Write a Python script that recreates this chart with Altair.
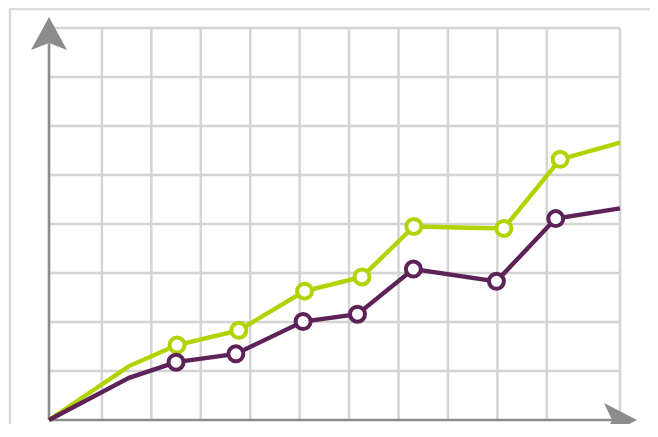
import altair as alt
import pandas as pd

# Series values (x in grid units from origin, y in grid units)
X_GREEN = [0, 1.62, 2.59, 3.84, 5.17, 6.33, 7.38, 9.20, 10.34, 11.55]
Y_GREEN = [0, 1.10, 1.53, 1.83, 2.63, 2.92, 3.95, 3.91, 5.32, 5.66]
X_PURPLE = [0, 1.62, 2.57, 3.78, 5.14, 6.24, 7.37, 9.05, 10.25, 11.55]
Y_PURPLE = [0, 0.86, 1.18, 1.35, 2.01, 2.16, 3.08, 2.83, 4.11, 4.32]
MARKER = [False, False, True, True, True, True, True, True, True, False]

SERIES = ["green", "purple"]
COLORS = ["#b3d300", "#5d2257"]

X_MAX = 11.55
Y_MAX = 8
GRID_X = [1.07, 2.07, 3.07, 4.07, 5.07, 6.07, 7.07, 8.07, 9.07, 10.07, 11.55]
GRID_Y = [1, 2, 3, 4, 5, 6, 7, 8]

rows = []
for name, xs_, ys_ in [("green", X_GREEN, Y_GREEN), ("purple", X_PURPLE, Y_PURPLE)]:
    for i, (xv, yv) in enumerate(zip(xs_, ys_)):
        rows.append({"series": name, "x": xv, "y": yv, "order": i, "marker": MARKER[i]})
df = pd.DataFrame(rows)

xs = alt.Scale(domain=[0, X_MAX], nice=False, zero=False)
ys = alt.Scale(domain=[0, Y_MAX], nice=False, zero=False)
cs = alt.Scale(domain=SERIES, range=COLORS)

X = lambda f: alt.X(f, type="quantitative", scale=xs, axis=None)
Y = lambda f: alt.Y(f, type="quantitative", scale=ys, axis=None)

border = alt.Chart(pd.DataFrame({"a": [0]})).mark_rect(
    filled=False, stroke="#d9d9d9", strokeWidth=2.5
).encode(x=alt.value(-39), x2=alt.value(700), y=alt.value(-19), y2=alt.value(460))

gx = alt.Chart(pd.DataFrame({"gx": GRID_X, "y0": 0, "y1": Y_MAX})).mark_rule(
    color="#d4d4d4", strokeWidth=2.5
).encode(x=X("gx"), y=Y("y0"), y2="y1")

gy = alt.Chart(pd.DataFrame({"gy": GRID_Y, "x0": 0, "x1": X_MAX})).mark_rule(
    color="#d4d4d4", strokeWidth=2.5
).encode(y=Y("gy"), x=X("x0"), x2="x1")

yaxis = alt.Chart(pd.DataFrame({"x0": [0], "y0": [0], "y1": [7.69]})).mark_rule(
    color="#8c8c8c", strokeWidth=2.6
).encode(x=X("x0"), y=Y("y0"), y2="y1")

xaxis = alt.Chart(pd.DataFrame({"y0": [0], "x0": [0], "x1": [11.39]})).mark_rule(
    color="#8c8c8c", strokeWidth=2.6
).encode(y=Y("y0"), x=X("x0"), x2="x1")

yarrow = alt.Chart(pd.DataFrame({"ax": [0], "ay": [7.857]})).mark_point(
    shape="M0,-1L1,0.83L0,0.44L-1,0.83Z", filled=True, color="#8c8c8c",
    size=1296, opacity=1, strokeWidth=0
).encode(x=X("ax"), y=Y("ay"))

xarrow = alt.Chart(pd.DataFrame({"ax": [X_MAX], "ay": [0]})).mark_point(
    shape="M1,0L-0.94,-1L-0.47,0L-0.94,1Z", filled=True, color="#8c8c8c",
    size=1156, opacity=1, strokeWidth=0
).encode(x=X("ax"), y=Y("ay"))

layers = [border, gx, gy, yaxis, xaxis, yarrow, xarrow]
for name in SERIES:
    sub = df[df["series"] == name]
    line = alt.Chart(sub).mark_line(strokeWidth=4.4).encode(
        x=X("x"), y=Y("y"),
        order="order:Q",
        color=alt.Color("series:N", scale=cs, legend=None),
    )
    pts = alt.Chart(sub[sub["marker"]]).mark_point(
        shape="circle", filled=True, fill="white", size=225, strokeWidth=4, opacity=1
    ).encode(
        x=X("x"), y=Y("y"),
        stroke=alt.Color("series:N", scale=cs, legend=None),
    )
    layers += [line, pts]

chart = alt.layer(*layers).properties(
    width=571, height=392,
    padding={"left": 41, "top": 20, "right": 30, "bottom": 4},
    autosize="none",
).configure_view(stroke=None)

chart.save("out.html", embed_options={"renderer": "svg", "actions": False})
